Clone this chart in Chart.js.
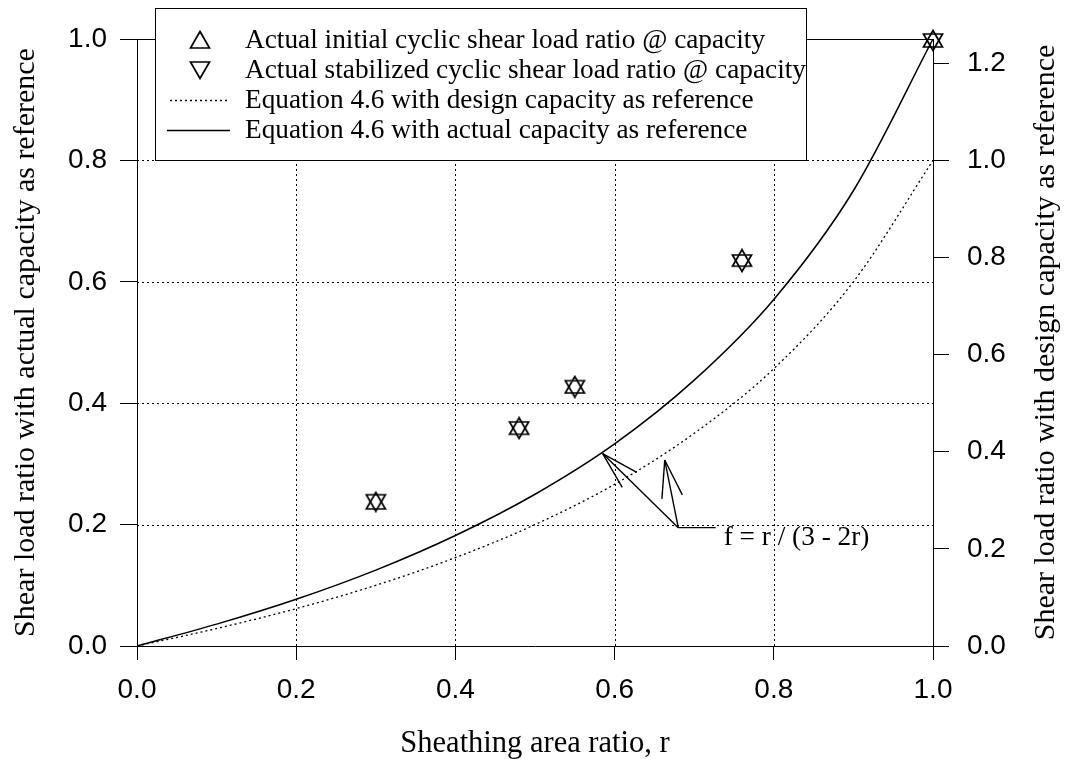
<!DOCTYPE html>
<html>
<head>
<meta charset="utf-8">
<script src="https://cdn.jsdelivr.net/npm/chart.js@4.4.0/dist/chart.umd.min.js"></script>
<style>
  html, body { margin: 0; padding: 0; background: #fff; }
</style>
</head>
<body>
<canvas id="chartRatio" width="1069" height="759"></canvas>
<script>
// values
const sheathRatio = [0.30, 0.48, 0.55, 0.76, 1.0];
const initialRatio = [0.239, 0.362, 0.430, 0.639, 1.0];
const stabilizedRatio = [0.236, 0.356, 0.424, 0.631, 0.995];

const curveR = [0, 0.1, 0.2, 0.3, 0.4, 0.5, 0.6, 0.7, 0.8, 0.9, 1.0];
const actualCurve = [0, 0.036, 0.077, 0.125, 0.182, 0.25, 0.333, 0.438, 0.571, 0.75, 1.0];  // left axis
const designCurve = [0, 0.036, 0.077, 0.125, 0.182, 0.25, 0.333, 0.438, 0.571, 0.75, 1.0];  // right axis

const xTicks = [0, 0.2, 0.4, 0.6, 0.8, 1.0];
const leftTicks = [0, 0.2, 0.4, 0.6, 0.8, 1.0];
const rightTicks = [0, 0.2, 0.4, 0.6, 0.8, 1.0, 1.2];

const legendLabels = [
  "Actual initial cyclic shear load ratio @ capacity",
  "Actual stabilized cyclic shear load ratio @ capacity",
  "Equation 4.6 with design capacity as reference",
  "Equation 4.6 with actual capacity as reference"
];

const SERIF = "'Liberation Serif', 'Times New Roman', serif";
const SANS = "'Liberation Sans', Arial, sans-serif";

// triangle markers as small canvases, centred on their box
function triangle(up) {
  const c = document.createElement("canvas");
  c.width = 22; c.height = 20;
  const g = c.getContext("2d");
  g.strokeStyle = "#000";
  g.lineWidth = 1.7;
  g.beginPath();
  if (up) {
    g.moveTo(11, 1.5); g.lineTo(20.5, 18); g.lineTo(1.5, 18);
  } else {
    g.moveTo(1.5, 2); g.lineTo(20.5, 2); g.lineTo(11, 18.5);
  }
  g.closePath();
  g.stroke();
  return c;
}
const upTri = triangle(true);
const downTri = triangle(false);

const pts = (xs, ys) => xs.map((x, i) => ({ x: x, y: ys[i] }));

const dotGrid = {
  id: "dotGrid",
  beforeDatasetsDraw(chart) {
    const { ctx, chartArea: a, scales } = chart;
    ctx.save();
    ctx.strokeStyle = "#000";
    ctx.lineWidth = 1;
    ctx.setLineDash([2, 3]);
    scales.x.ticks.forEach(t => {
      if (t.value <= 0 || t.value >= 1) return;
      const px = Math.round(scales.x.getPixelForValue(t.value)) + 0.5;
      ctx.beginPath(); ctx.moveTo(px, a.top); ctx.lineTo(px, a.bottom); ctx.stroke();
    });
    scales.y.ticks.forEach(t => {
      if (t.value <= 0 || t.value >= 1) return;
      const py = Math.round(scales.y.getPixelForValue(t.value)) + 0.5;
      ctx.beginPath(); ctx.moveTo(a.left, py); ctx.lineTo(a.right, py); ctx.stroke();
    });
    ctx.setLineDash([]);
    ctx.beginPath();
    ctx.moveTo(a.left, Math.round(a.top) + 0.5);
    ctx.lineTo(a.right, Math.round(a.top) + 0.5);
    ctx.stroke();
    ctx.restore();
  }
};

// arrows and equation label
const notes = {
  id: "notes",
  afterDatasetsDraw(chart) {
    const { ctx, scales } = chart;
    const X = v => scales.x.getPixelForValue(v);
    const YL = v => scales.y.getPixelForValue(v);
    const YR = v => scales.y2.getPixelForValue(v);
    const jx = X(0.68), jy = YL(0.195);
    ctx.save();
    ctx.strokeStyle = "#000";
    ctx.lineWidth = 1.4;
    const arrow = (tx, ty) => {
      ctx.beginPath(); ctx.moveTo(jx, jy); ctx.lineTo(tx, ty); ctx.stroke();
      const ang = Math.atan2(jy - ty, jx - tx);
      [-0.27, 0.27].forEach(d => {
        ctx.beginPath();
        ctx.moveTo(tx, ty);
        ctx.lineTo(tx + 39 * Math.cos(ang + d), ty + 39 * Math.sin(ang + d));
        ctx.stroke();
      });
    };
    arrow(X(0.585), YL(0.317));
    arrow(X(0.663), YR(0.383));
    ctx.beginPath(); ctx.moveTo(jx, jy); ctx.lineTo(X(0.727), jy); ctx.stroke();
    ctx.fillStyle = "#000";
    ctx.font = "27.3px " + SERIF;
    ctx.textAlign = "left";
    ctx.textBaseline = "alphabetic";
    ctx.fillText("f = r / (3 - 2r)", X(0.737), YL(0.166));
    ctx.restore();
  }
};

const boxLegend = {
  id: "boxLegend",
  afterDraw(chart) {
    const { ctx } = chart;
    ctx.save();
    ctx.fillStyle = "#fff";
    ctx.fillRect(155, 8, 651, 152);
    ctx.strokeStyle = "#000";
    ctx.lineWidth = 1;
    ctx.strokeRect(155.5, 8.5, 651, 152);
    const rows = [40, 70, 100, 130];
    ctx.drawImage(upTri, 200 - 11, rows[0] - 10);
    ctx.drawImage(downTri, 200 - 11, rows[1] - 10);
    ctx.lineWidth = 1.3;
    ctx.setLineDash([2, 3]);
    ctx.beginPath(); ctx.moveTo(170, rows[2] + 0.5); ctx.lineTo(227, rows[2] + 0.5); ctx.stroke();
    ctx.setLineDash([]);
    ctx.beginPath(); ctx.moveTo(167, rows[3] + 0.5); ctx.lineTo(230, rows[3] + 0.5); ctx.stroke();
    ctx.fillStyle = "#000";
    ctx.font = "27.3px " + SERIF;
    ctx.textBaseline = "middle";
    legendLabels.forEach((t, i) => ctx.fillText(t, 245, rows[i] + 1));

    // right axis title, reading upwards
    const s = chart.scales.y2;
    ctx.translate(1046, (s.top + s.bottom) / 2);
    ctx.rotate(-Math.PI / 2);
    ctx.font = "30px " + SERIF;
    ctx.textAlign = "center";
    ctx.fillText("Shear load ratio with design capacity as reference", 0, 0);
    ctx.restore();
  }
};

const tickFont = { family: SANS, size: 28 };
const titleFont = { family: SERIF, size: 30.5, lineHeight: 1 };
const fix1 = v => Number(v).toFixed(1);

new Chart(document.getElementById("chartRatio"), {
  type: "scatter",
  data: {
    datasets: [
      {
        type: "line",
        data: pts(curveR, actualCurve),
        yAxisID: "y",
        borderColor: "#000",
        borderWidth: 1.5,
        pointRadius: 0,
        cubicInterpolationMode: "monotone",
        fill: false
      },
      {
        type: "line",
        data: pts(curveR, designCurve),
        yAxisID: "y2",
        borderColor: "#000",
        borderWidth: 1.3,
        borderDash: [2, 3],
        pointRadius: 0,
        cubicInterpolationMode: "monotone",
        fill: false
      },
      {
        data: pts(sheathRatio, initialRatio),
        yAxisID: "y",
        pointStyle: upTri,
        clip: false
      },
      {
        data: pts(sheathRatio, stabilizedRatio),
        yAxisID: "y",
        pointStyle: downTri,
        clip: false
      }
    ]
  },
  options: {
    responsive: false,
    animation: false,
    devicePixelRatio: 1,
    layout: { padding: { top: 39, left: 0, right: 0, bottom: 0 } },
    plugins: { legend: { display: false }, tooltip: { enabled: false } },
    scales: {
      x: {
        type: "linear", min: 0, max: 1,
        afterBuildTicks: s => { s.ticks = xTicks.map(v => ({ value: v })); },
        afterFit: s => { s.height = 113; },
        ticks: { font: tickFont, color: "#000", padding: 13, callback: fix1, maxRotation: 0 },
        grid: { drawOnChartArea: false, color: "#000", tickLength: 14 },
        border: { color: "#000", width: 1 },
        title: { display: true, text: "Sheathing area ratio, r", font: titleFont, color: "#000", padding: { top: 0, bottom: 0 } }
      },
      y: {
        type: "linear", position: "left", min: 0, max: 1,
        afterBuildTicks: s => { s.ticks = leftTicks.map(v => ({ value: v })); },
        afterFit: s => { s.width = 137; },
        ticks: { font: tickFont, color: "#000", padding: 13, callback: fix1 },
        grid: { drawOnChartArea: false, color: "#000", tickLength: 17 },
        border: { color: "#000", width: 1 },
        title: { display: true, text: "Shear load ratio with actual capacity as reference", font: { family: SERIF, size: 30, lineHeight: 1 }, color: "#000", padding: { top: 11, bottom: 0 } }
      },
      y2: {
        type: "linear", position: "right", min: 0, max: 1.25,
        afterBuildTicks: s => { s.ticks = rightTicks.map(v => ({ value: v })); },
        afterFit: s => { s.width = 136; },
        ticks: { font: tickFont, color: "#000", padding: 18, callback: fix1 },
        grid: { drawOnChartArea: false, color: "#000", tickLength: 16 },
        border: { color: "#000", width: 1 }
      }
    }
  },
  plugins: [dotGrid, notes, boxLegend]
});
</script>
</body>
</html>
